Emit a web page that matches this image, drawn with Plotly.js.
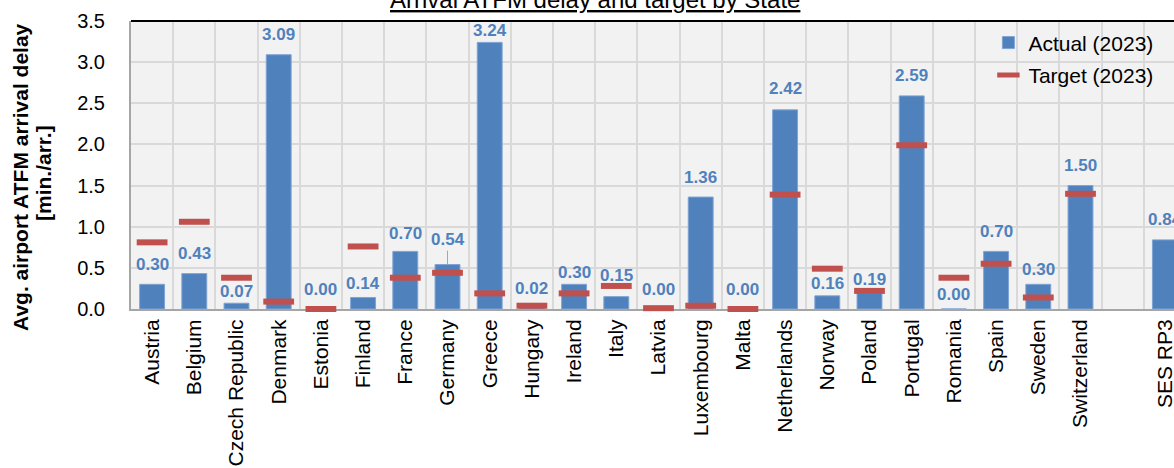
<!DOCTYPE html>
<html>
<head>
<meta charset="utf-8">
<script src="https://cdn.plot.ly/plotly-3.0.1.min.js"></script>
<style>
  html, body { margin: 0; padding: 0; background: #ffffff; overflow: hidden; }
  #chart { width: 1186px; height: 468px; }
</style>
</head>
<body>
<div id="chart"></div>
<script>
// States (plus a spacer slot before the SES-wide value)
const categories = [
  'Austria', 'Belgium', 'Czech Republic', 'Denmark', 'Estonia', 'Finland',
  'France', 'Germany', 'Greece', 'Hungary', 'Ireland', 'Italy', 'Latvia',
  'Luxembourg', 'Malta', 'Netherlands', 'Norway', 'Poland', 'Portugal',
  'Romania', 'Spain', 'Sweden', 'Switzerland', ' ', 'SES RP3'
];

// Actual average airport ATFM arrival delay 2023 [min./arr.]
const actual = [
  0.30, 0.43, 0.07, 3.09, 0.00, 0.14,
  0.70, 0.54, 3.24, 0.02, 0.30, 0.15, 0.00,
  1.36, 0.00, 2.42, 0.16, 0.19, 2.59,
  0.00, 0.70, 0.30, 1.50, null, 0.84
];

// Performance plan targets 2023 [min./arr.]
const target = [
  0.81, 1.06, 0.38, 0.09, 0.00, 0.76,
  0.38, 0.44, 0.19, 0.04, 0.19, 0.28, 0.01,
  0.04, 0.00, 1.39, 0.49, 0.22, 1.99,
  0.38, 0.55, 0.14, 1.40, null, null
];

// How far (px) each value label sits above its bar top
const labelLift = [
  20, 20, 12, 20, 20, 14,
  18, 25, 12, 19, 12, 21, 20,
  20, 20, 21, 12, 14, 20,
  15, 20, 15, 20, 0, 20
];

const seriesNames = ['Actual (2023)', 'Target (2023)'];
const chartTitle = 'Arrival ATFM delay and target by State';
const yTitleLines = ['Avg. airport ATFM arrival delay', '[min./arr.]'];

const BLUE = '#4f81bd';
const RED = '#c0504d';
const FONT = 'Liberation Sans, Arial, sans-serif';

const traces = [
  {
    type: 'bar',
    name: seriesNames[0],
    x: categories,
    y: actual,
    width: 0.59,
    marker: { color: BLUE, line: { color: '#7fa3d3', width: 1 } },
    legendgroup: 'a',
    hoverinfo: 'x+y'
  },
  {
    type: 'scatter',
    mode: 'markers',
    name: seriesNames[1],
    x: categories,
    y: target,
    cliponaxis: false,
    marker: {
      symbol: 'line-ew',
      size: 22,
      color: RED,
      line: { color: RED, width: 6 }
    },
    legendgroup: 'b',
    hoverinfo: 'x+y'
  }
];

// Value labels above each bar
const annotations = [];
categories.forEach((c, i) => {
  if (actual[i] === null) return;
  const leader = c === 'Germany';
  annotations.push({
    x: c,
    y: actual[i],
    xref: 'x',
    yref: 'y',
    text: '<b>' + actual[i].toFixed(2) + '</b>',
    font: { family: FONT, size: 17, color: BLUE },
    showarrow: leader,
    arrowhead: 0,
    arrowwidth: 1,
    arrowcolor: '#a6a6a6',
    ax: 0,
    ay: -labelLift[i],
    yanchor: 'middle',
    yshift: leader ? 0 : labelLift[i]
  });
});

// Chart title, underlined, at the top edge of the page
annotations.push({
  xref: 'paper',
  yref: 'paper',
  x: 0.44,
  y: 1,
  xanchor: 'center',
  yanchor: 'middle',
  yshift: 22,
  showarrow: false,
  text: '<u>' + chartTitle + '</u>',
  font: { family: FONT, size: 24, color: '#000000' }
});

// Two-line vertical axis title
const plotW = 1186 - 131;
const plotH = 468 - 21 - 159;
[[20, 176], [43, 172]].forEach((pos, k) => {
  annotations.push({
    xref: 'paper',
    yref: 'paper',
    x: (pos[0] - 131) / plotW,
    y: (308 - pos[1]) / plotH,
    xanchor: 'center',
    yanchor: 'middle',
    textangle: -90,
    showarrow: false,
    text: '<b>' + yTitleLines[k] + '</b>',
    font: { family: FONT, size: 21, color: '#000000' }
  });
});

const layout = {
  width: 1186,
  height: 468,
  margin: { l: 131, r: 0, t: 21, b: 159 },
  paper_bgcolor: '#ffffff',
  plot_bgcolor: '#f2f2f2',
  font: { family: FONT, color: '#000000' },
  showlegend: true,
  legend: {
    x: 0.8127,
    xanchor: 'left',
    y: 0.995,
    yanchor: 'top',
    bgcolor: 'rgba(0,0,0,0)',
    font: { family: FONT, size: 21, color: '#000000' },
    traceorder: 'grouped',
    tracegroupgap: 2
  },
  xaxis: {
    type: 'category',
    range: [-0.5, 24.5],
    tickson: 'boundaries',
    showgrid: true,
    gridcolor: '#d9d9d9',
    gridwidth: 2,
    showline: true,
    linecolor: '#a6a6a6',
    linewidth: 2,
    ticks: 'outside',
    ticklen: 7,
    tickcolor: 'rgba(0,0,0,0)',
    tickangle: -90,
    tickfont: { family: FONT, size: 21, color: '#000000' },
    layer: 'below traces',
    fixedrange: true
  },
  yaxis: {
    range: [0, 3.5],
    dtick: 0.5,
    tick0: 0,
    tickformat: '.1f',
    showgrid: true,
    gridcolor: '#d9d9d9',
    gridwidth: 2,
    zeroline: false,
    showline: true,
    linecolor: '#a6a6a6',
    linewidth: 2,
    ticks: 'outside',
    ticklen: 20,
    tickcolor: 'rgba(0,0,0,0)',
    tickfont: { family: FONT, size: 20, color: '#000000' },
    layer: 'below traces',
    fixedrange: true
  },
  shapes: [
    {
      type: 'line',
      xref: 'paper',
      yref: 'paper',
      x0: 0, x1: 1, y0: 1, y1: 1,
      line: { color: '#000000', width: 2 }
    }
  ],
  annotations: annotations,
  bargap: 0.4
};

Plotly.newPlot('chart', traces, layout, { displayModeBar: false, staticPlot: true });
</script>
</body>
</html>
